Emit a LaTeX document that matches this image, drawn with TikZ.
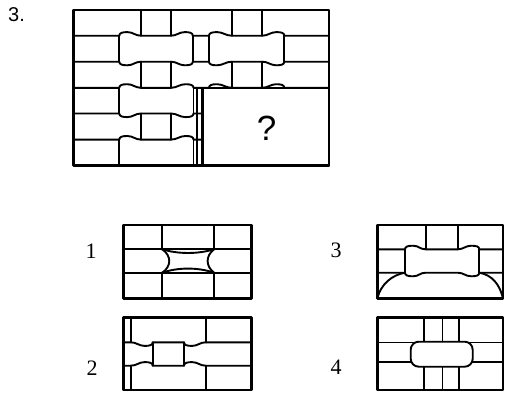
\documentclass[tikz,border=0pt]{standalone}
\usepackage{fontspec}
\newfontfamily\arialf{Liberation Sans}
\newfontfamily\timesf{Liberation Serif}
% knob macros: current point is (#1,#3); end at (#2,#3)
\newcommand\kLu[3]{.. controls ({#1},{#3-2.8}) and ({#1+3},{#3-3.6}) .. ({#1+8},{#3-3.6}) .. controls ({#1+14},{#3-3.6}) and ({#2-6},{#3}) .. ({#2},{#3})}
\newcommand\kLd[3]{.. controls ({#1},{#3+2.8}) and ({#1+3},{#3+3.6}) .. ({#1+8},{#3+3.6}) .. controls ({#1+14},{#3+3.6}) and ({#2-6},{#3}) .. ({#2},{#3})}
\newcommand\kRu[3]{.. controls ({#1+6},{#3}) and ({#2-14},{#3-3.6}) .. ({#2-8},{#3-3.6}) .. controls ({#2-3},{#3-3.6}) and ({#2},{#3-2.8}) .. ({#2},{#3})}
\newcommand\kRd[3]{.. controls ({#1+6},{#3}) and ({#2-14},{#3+3.6}) .. ({#2-8},{#3+3.6}) .. controls ({#2-3},{#3+3.6}) and ({#2},{#3+2.8}) .. ({#2},{#3})}
\begin{document}
\begin{tikzpicture}[x=1pt,y=-1pt,line cap=round,line join=round,
  ln/.style={line width=1.9pt},
  frame/.style={line width=2.6pt},
  hair/.style={line width=1.1pt},
  lbl/.style={font=\timesf\fontsize{22}{22}\selectfont,inner sep=0pt}]
\useasboundingbox (0,0) rectangle (506,394);

\node[font=\arialf\fontsize{20}{20}\selectfont,inner sep=0pt] (num) at (16.5,14.5) {3.};

% ---------- main figure ----------
\begin{scope}[ln]
\foreach \x in {141,171,231.7,262.3} {
  \draw (\x,10) -- (\x,35.7);
  \draw (\x,61.7) -- (\x,87.8);
  \draw (\x,113.5) -- (\x,139.6);
}
\draw (73.3,35.7) -- (119.3,35.7) \kLu{119.3}{141}{35.7} -- (171,35.7) \kRu{171}{192.8}{35.7}
      -- (209,35.7) \kLu{209}{231.7}{35.7} -- (262.3,35.7) \kRu{262.3}{284.3}{35.7} -- (328.8,35.7);
\draw (73.3,61.7) -- (119.3,61.7) \kLd{119.3}{141}{61.7} -- (171,61.7) \kRd{171}{192.8}{61.7}
      -- (209,61.7) \kLd{209}{231.7}{61.7} -- (262.3,61.7) \kRd{262.3}{284.3}{61.7} -- (328.8,61.7);
\draw (73.3,87.8) -- (119.3,87.8) \kLu{119.3}{141}{87.8} -- (171,87.8) \kRu{171}{193.5}{87.8}
      -- (209,87.8) \kLu{209}{231.7}{87.8} -- (262.3,87.8) \kRu{262.3}{284.3}{87.8} -- (328.8,87.8);
\draw (73.3,113.5) -- (119.3,113.5) \kLd{119.3}{141}{113.5} -- (171,113.5) \kRd{171}{193.5}{113.5}
      -- (209,113.5) \kLd{209}{231.7}{113.5} -- (262.3,113.5) \kRd{262.3}{284.3}{113.5} -- (328.8,113.5);
\draw (73.3,139.6) -- (119.3,139.6) \kLu{119.3}{141}{139.6} -- (171,139.6) \kRu{171}{193.5}{139.6}
      -- (209,139.6) \kLu{209}{231.7}{139.6} -- (262.3,139.6) \kRu{262.3}{284.3}{139.6} -- (328.8,139.6);
\foreach \x in {119.3,192.8,209,284.3} \draw (\x,35.7) -- (\x,61.7);
\foreach \x in {119.3,193.5,209,284.3} {
  \draw (\x,87.8) -- (\x,113.5);
  \draw (\x,139.6) -- (\x,165.4);
}
\draw (197.3,87.8) -- (197.3,165.4);
\end{scope}
\draw[frame] (73.3,10) rectangle (328.8,165.4);
\draw[frame,fill=white] (202.3,87.8) rectangle (328.8,165.4);
\node[font=\arialf\fontsize{35}{35}\selectfont,inner sep=0pt] (q) at (266.5,128.5) {?};

% ---------- option 1 ----------
\begin{scope}[ln]
\foreach \x in {162.3,214} {
  \draw (\x,225) -- (\x,249.3);
  \draw (\x,272.7) -- (\x,298.3);
}
\draw (123.3,249.3) -- (251.5,249.3);
\draw (123.3,272.7) -- (251.5,272.7);
\draw (162.3,249.3) .. controls (171.6,256) and (171.6,266) .. (162.3,272.7);
\draw (214,249.3) .. controls (205.5,256) and (205.5,266) .. (214,272.7);
\draw (162.3,249.3) .. controls (178,254.2) and (198,254.2) .. (214,249.3);
\draw (162.3,272.7) .. controls (178,267.2) and (198,267.2) .. (214,272.7);
\end{scope}
\draw[frame] (123.3,225) rectangle (251.5,298.3);
\node[lbl] (l1) at (91,251) {1};

% ---------- option 3 ----------
\begin{scope}[ln]
\foreach \x in {425.7,457.7} \draw (\x,225) -- (\x,249.3);
\draw (377.3,249.3) -- (405,249.3) \kLu{405}{425.7}{249.3} -- (457.7,249.3) \kRu{457.7}{479.3}{249.3} -- (503,249.3);
\draw (377.3,272.7) -- (405,272.7) \kLd{405}{425.7}{272.7} -- (457.7,272.7) \kRd{457.7}{479.3}{272.7} -- (503,272.7);
\foreach \x in {405,479.3} \draw (\x,249.3) -- (\x,272.7);
\draw (377.3,298.3) .. controls (381,284) and (392,275) .. (405,272.7);
\draw (479.3,272.7) .. controls (492,275) and (499.5,284) .. (503,298.3);
\end{scope}
\draw[frame] (377.3,225) rectangle (503,298.3);
\node[lbl] (l3) at (336,250.5) {3};

% ---------- option 2 ----------
\begin{scope}[ln]
\foreach \x in {130.7,205.7} {
  \draw (\x,317.3) -- (\x,342.3);
  \draw (\x,365.7) -- (\x,390);
}
\foreach \x in {152.7,184} \draw (\x,342.3) -- (\x,365.7);
\draw (123.3,342.3) -- (130.7,342.3) \kRd{130.7}{152.7}{342.3} -- (184,342.3) \kLd{184}{205.7}{342.3} -- (251.5,342.3);
\draw (123.3,365.7) -- (130.7,365.7) \kRu{130.7}{152.7}{365.7} -- (184,365.7) \kLu{184}{205.7}{365.7} -- (251.5,365.7);
\end{scope}
\draw[frame] (123.3,317.3) rectangle (251.5,390);
\node[lbl] (l2) at (92,368) {2};

% ---------- option 4 ----------
\draw[hair] (377.3,342.8) -- (503,342.8);
\draw[hair] (377.3,362) -- (503,362);
\draw[ln] (424.3,317.3) -- (424.3,390);
\draw[ln] (459,317.3) -- (459,390);
\draw[line width=1.4pt] (442.3,317.3) -- (442.3,390);
\draw[ln,fill=white,rounded corners=8pt] (410.7,341.7) rectangle (472.7,366.7);
\draw[frame] (377.3,317.3) rectangle (503,390);
\node[lbl] (l4) at (336,367.5) {4};
\end{tikzpicture}
\end{document}
